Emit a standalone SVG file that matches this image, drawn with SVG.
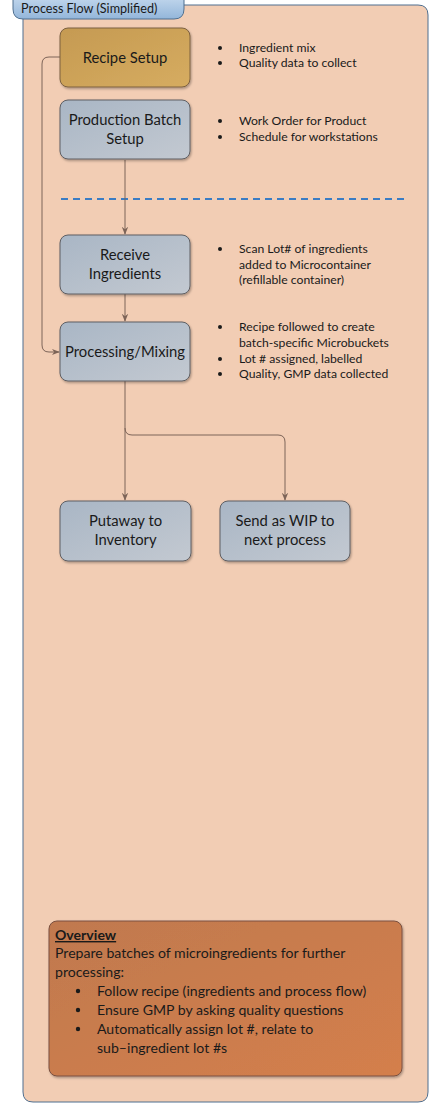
<svg xmlns="http://www.w3.org/2000/svg" width="433" height="1103" viewBox="0 0 433 1103">
<defs>
<linearGradient id="gTab" x1="0" y1="0" x2="0" y2="1"><stop offset="0" stop-color="#c6daee"/><stop offset="1" stop-color="#93b6da"/></linearGradient>
<linearGradient id="gGold" x1="0" y1="0" x2="1" y2="1"><stop offset="0" stop-color="#c59a52"/><stop offset="1" stop-color="#d6ac60"/></linearGradient>
<linearGradient id="gGray" x1="0" y1="0" x2="1" y2="1"><stop offset="0" stop-color="#a9b6c5"/><stop offset="1" stop-color="#c3c9d1"/></linearGradient>
<linearGradient id="gOver" x1="0" y1="0" x2="1" y2="1"><stop offset="0" stop-color="#c0794f"/><stop offset="1" stop-color="#d47f4c"/></linearGradient>
<filter id="sh" x="-10%" y="-10%" width="125%" height="130%"><feDropShadow dx="1" dy="1.5" stdDeviation="1.2" flood-color="#000" flood-opacity="0.3"/></filter>
<marker id="arr" viewBox="0 0 10 10" refX="9" refY="5" markerWidth="8" markerHeight="8" orient="auto" markerUnits="userSpaceOnUse"><path d="M0,1 L10,5 L0,9 L3,5 z" fill="#7d6458"/></marker>
</defs>
<style>
.lbl{font-family:Lato,"Open Sans","Liberation Sans",sans-serif;font-size:14.8px;fill:#1a1a1a;text-anchor:middle}
.bul{font-family:Lato,"Open Sans","Liberation Sans",sans-serif;font-size:12.2px;fill:#1a1a1a}
.ov{font-family:Lato,"Open Sans","Liberation Sans",sans-serif;font-size:14.1px;fill:#1a1a1a}
.con{fill:none;stroke:#7d6458;stroke-width:1}
.dot{fill:#1a1a1a}
</style>
<g id="container">
<path d="M23,15 L23,1092 Q23,1102 33,1102 L418,1102 Q428,1102 428,1092 L428,15 Q428,5 418,5 L23,5 Z" fill="#f2cdb4" stroke="#4f6f8f" stroke-width="1"/>
</g>
<g id="title">
<path d="M13,-5 L184,-5 L184,9 Q184,19 174,19 L23,19 Q13,19 13,9 Z" fill="url(#gTab)" stroke="#4f6f8f" stroke-width="1"/>
<text x="21" y="12.5" font-family="Lato,'Open Sans','Liberation Sans',sans-serif" font-size="12.6" fill="#1a1a1a">Process Flow (Simplified)</text>
</g>
<g id="divider">
<line x1="61" y1="199" x2="408" y2="199" stroke="#3a7cc4" stroke-width="2" stroke-dasharray="7,5"/>
</g>
<g id="connectors">
<path class="con" d="M125,160 L125,234" marker-end="url(#arr)"/>
<path class="con" d="M125,294 L125,321" marker-end="url(#arr)"/>
<path class="con" d="M125,381 L125,500" marker-end="url(#arr)"/>
<path class="con" d="M125,428 Q125,435 132,435 L278,435 Q285,435 285,442 L285,500" marker-end="url(#arr)"/>
<path class="con" d="M60,57 L49,57 Q42,57 42,64 L42,345 Q42,352 49,352 L59,352" marker-end="url(#arr)"/>
</g>
<g id="recipe-setup">
<rect x="60" y="28" width="130" height="59" rx="8" fill="url(#gGold)" stroke="#7c6040" filter="url(#sh)"/>
<text class="lbl" x="125" y="63">Recipe Setup</text>
</g>
<g id="recipe-notes">
<circle class="dot" cx="220" cy="48" r="2"/><text class="bul" x="239" y="52">Ingredient mix</text>
<circle class="dot" cx="220" cy="63" r="2"/><text class="bul" x="239" y="67">Quality data to collect</text>
</g>
<g id="production-batch">
<rect x="60" y="100" width="130" height="59" rx="8" fill="url(#gGray)" stroke="#5e5e62" filter="url(#sh)"/>
<text class="lbl" x="125" y="125">Production Batch</text>
<text class="lbl" x="125" y="144">Setup</text>
</g>
<g id="production-notes">
<circle class="dot" cx="220" cy="121" r="2"/><text class="bul" x="239" y="125">Work Order for Product</text>
<circle class="dot" cx="220" cy="137" r="2"/><text class="bul" x="239" y="141">Schedule for workstations</text>
</g>
<g id="receive">
<rect x="60" y="235" width="130" height="59" rx="8" fill="url(#gGray)" stroke="#5e5e62" filter="url(#sh)"/>
<text class="lbl" x="125" y="260">Receive</text>
<text class="lbl" x="125" y="279">Ingredients</text>
</g>
<g id="receive-notes">
<circle class="dot" cx="220" cy="249" r="2"/><text class="bul" x="239" y="253">Scan Lot# of ingredients</text>
<text class="bul" x="239" y="269">added to Microcontainer</text>
<text class="bul" x="239" y="284">(refillable container)</text>
</g>
<g id="processing">
<rect x="60" y="322" width="130" height="59" rx="8" fill="url(#gGray)" stroke="#5e5e62" filter="url(#sh)"/>
<text class="lbl" x="125" y="357">Processing/Mixing</text>
</g>
<g id="processing-notes">
<circle class="dot" cx="220" cy="327" r="2"/><text class="bul" x="239" y="331">Recipe followed to create</text>
<text class="bul" x="239" y="347">batch-specific Microbuckets</text>
<circle class="dot" cx="220" cy="359" r="2"/><text class="bul" x="239" y="363">Lot # assigned, labelled</text>
<circle class="dot" cx="220" cy="374" r="2"/><text class="bul" x="239" y="378">Quality, GMP data collected</text>
</g>
<g id="putaway">
<rect x="60" y="501" width="131" height="60" rx="8" fill="url(#gGray)" stroke="#5e5e62" filter="url(#sh)"/>
<text class="lbl" x="125.5" y="526">Putaway to</text>
<text class="lbl" x="125.5" y="545">Inventory</text>
</g>
<g id="send-wip">
<rect x="220" y="501" width="130" height="60" rx="8" fill="url(#gGray)" stroke="#5e5e62" filter="url(#sh)"/>
<text class="lbl" x="285" y="526">Send as WIP to</text>
<text class="lbl" x="285" y="545">next process</text>
</g>
<g id="overview">
<rect x="49" y="921" width="353" height="155" rx="8" fill="url(#gOver)" stroke="#7a5040" filter="url(#sh)"/>
<text class="ov" x="55" y="940" font-weight="bold" text-decoration="underline">Overview</text>
<text class="ov" x="55" y="958">Prepare batches of microingredients for further</text>
<text class="ov" x="55" y="977">processing:</text>
<circle class="dot" cx="78" cy="991" r="2.2"/><text class="ov" x="97" y="996">Follow recipe (ingredients and process flow)</text>
<circle class="dot" cx="78" cy="1010" r="2.2"/><text class="ov" x="97" y="1015">Ensure GMP by asking quality questions</text>
<circle class="dot" cx="78" cy="1029" r="2.2"/><text class="ov" x="97" y="1034">Automatically assign lot #, relate to</text>
<text class="ov" x="97" y="1053">sub–ingredient lot #s</text>
</g>
</svg>
